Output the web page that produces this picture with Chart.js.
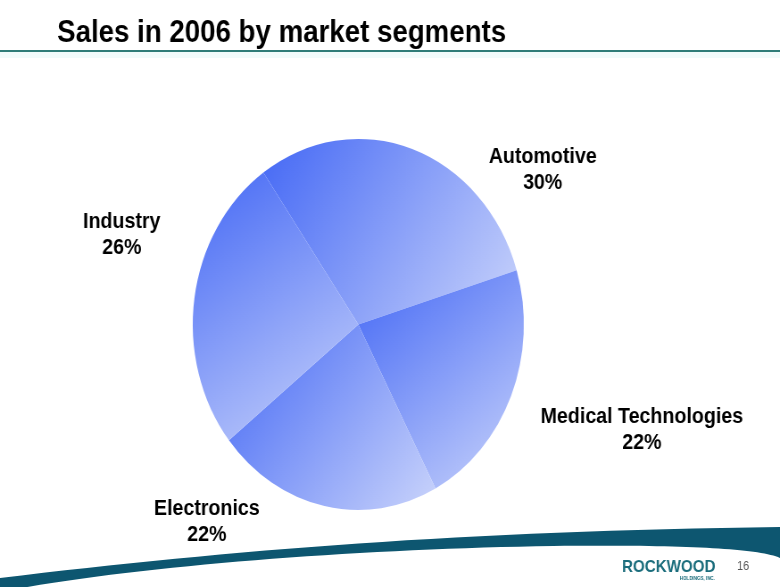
<!DOCTYPE html>
<html>
<head>
<meta charset="utf-8">
<script src="https://cdn.jsdelivr.net/npm/chart.js@4.4.1/dist/chart.umd.min.js"></script>
<style>
    html, body { margin: 0; padding: 0; background: #fff; overflow: hidden; }
    /* the slide is squeezed sideways, so draw it wide and scale it down */
    #slide { position: relative; width: 874px; height: 587px; transform: scaleX(0.8924); transform-origin: 0 0; }
    canvas { display: block; }
</style>
</head>
<body>
<div id="slide"><canvas id="segmentChart" width="874" height="587"></canvas></div>

<script>
const segments = ["Automotive", "Medical Technologies", "Electronics", "Industry"];
const shares = [30, 22, 22, 26];
const shareLabels = ["30%", "22%", "22%", "26%"];
const startRotation = -35;

const darkBlue = "#4468f5";
const lightBlue = "#cad4fb";
const fontFamily = "'Liberation Sans', Arial, sans-serif";

// where each label sits, in pie radii from the centre
const labelOffsets = [[1.114, -0.833], [1.713, 0.571], [-0.915, 1.062], [-1.429, -0.485]];

function sliceGradient(context) {
    const chart = context.chart;
    const area = chart.chartArea;
    if (!area) return darkBlue;

    const cx = (area.left + area.right) / 2;
    const cy = (area.top + area.bottom) / 2;
    const r = Math.min(area.right - area.left, area.bottom - area.top) / 2;
    const total = shares.reduce((a, b) => a + b, 0);

    let start = -Math.PI / 2 + startRotation * Math.PI / 180;
    for (let k = 0; k < context.dataIndex; k++) {
        start += shares[k] / total * 2 * Math.PI;
    }
    const end = start + shares[context.dataIndex] / total * 2 * Math.PI;

    // bounding box of the slice, gradient runs corner to corner
    const xs = [cx, cx + r * Math.cos(start), cx + r * Math.cos(end)];
    const ys = [cy, cy + r * Math.sin(start), cy + r * Math.sin(end)];
    for (let q = -4; q <= 8; q++) {
        const a = q * Math.PI / 2;
        if (a > start && a < end) {
            xs.push(cx + r * Math.cos(a));
            ys.push(cy + r * Math.sin(a));
        }
    }

    const g = chart.ctx.createLinearGradient(Math.min(...xs), Math.min(...ys), Math.max(...xs), Math.max(...ys));
    g.addColorStop(0, darkBlue);
    g.addColorStop(1, lightBlue);
    return g;
}

const slideDecor = {
    id: "slideDecor",
    beforeDraw(chart) {
        const ctx = chart.ctx;
        const w = chart.width;
        ctx.save();

        // title and rule
        ctx.fillStyle = "#000";
        ctx.font = "bold 31px " + fontFamily;
        ctx.textBaseline = "alphabetic";
        ctx.textAlign = "left";
        ctx.fillText("Sales in 2006 by market segments", 64, 42);

        ctx.fillStyle = "#2f7c78";
        ctx.fillRect(0, 50, w, 2);
        ctx.fillStyle = "#f1fbfb";
        ctx.fillRect(0, 52, w, 6);

        // swoosh at the bottom
        ctx.fillStyle = "#0d5670";
        ctx.beginPath();
        ctx.moveTo(0, 578);
        ctx.bezierCurveTo(260, 550, 520, 531, w, 527);
        ctx.lineTo(w, 558);
        ctx.bezierCurveTo(850, 548, 760, 545, 620, 546);
        ctx.bezierCurveTo(400, 549, 150, 566, 0, 592);
        ctx.closePath();
        ctx.fill();

        // logo and page number
        ctx.fillStyle = "#1b6d7c";
        ctx.font = "bold 17px " + fontFamily;
        ctx.fillText("ROCKWOOD", 697, 572);
        ctx.font = "bold 5px " + fontFamily;
        ctx.textAlign = "right";
        ctx.fillText("HOLDINGS, INC.", 801, 580);
        ctx.fillStyle = "#555";
        ctx.font = "12px " + fontFamily;
        ctx.textAlign = "left";
        ctx.fillText("16", 826, 570);

        ctx.restore();
    },
    afterDraw(chart) {
        const ctx = chart.ctx;
        const arc = chart.getDatasetMeta(0).data[0];
        if (!arc) return;
        const r = arc.outerRadius;
        ctx.save();
        ctx.fillStyle = "#000";
        ctx.font = "bold 22px " + fontFamily;
        ctx.textAlign = "center";
        ctx.textBaseline = "middle";
        segments.forEach((name, i) => {
            const x = arc.x + labelOffsets[i][0] * r;
            const y = arc.y + labelOffsets[i][1] * r;
            ctx.fillText(name, x, y - 13);
            ctx.fillText(shareLabels[i], x, y + 13);
        });
        ctx.restore();
    }
};

new Chart(document.getElementById("segmentChart"), {
    type: "pie",
    data: {
        labels: segments,
        datasets: [{
            data: shares,
            backgroundColor: sliceGradient,
            borderWidth: 0
        }]
    },
    options: {
        responsive: false,
        animation: false,
        rotation: startRotation,
        layout: { padding: { left: 216, right: 287, top: 139, bottom: 77 } },
        plugins: {
            legend: { display: false },
            tooltip: { enabled: false }
        }
    },
    plugins: [slideDecor]
});
</script>
</body>
</html>
